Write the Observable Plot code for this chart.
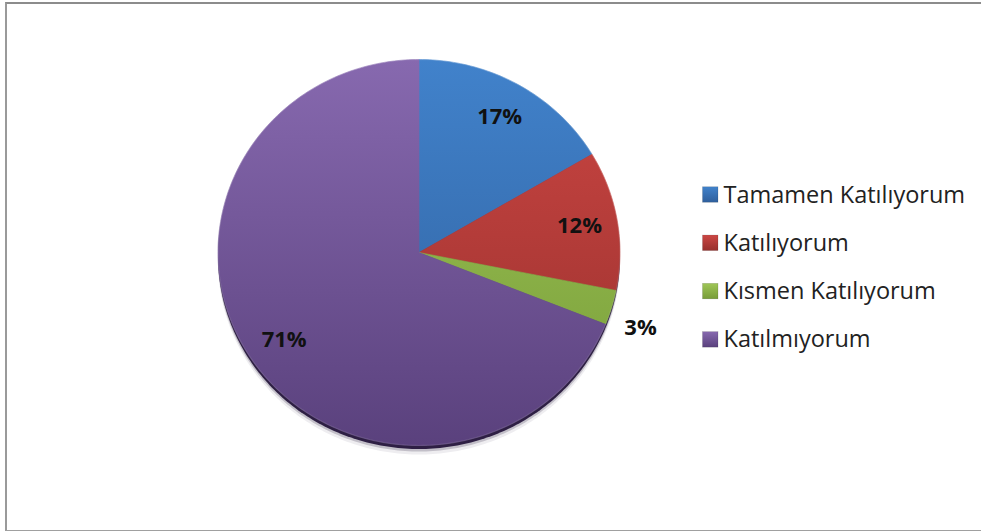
<!DOCTYPE html>
<html><head><meta charset="utf-8">
<script src="https://cdn.jsdelivr.net/npm/d3@7"></script>
<script src="https://cdn.jsdelivr.net/npm/@observablehq/plot@0.6"></script>
<style>
body{margin:0;background:#fff}
#chart{position:relative;width:981px;height:531px;overflow:hidden}
#frame{position:absolute;left:5px;top:2px;width:980px;height:526px;border-top:2px solid #8c8c8c;border-left:2px solid #9a9a9a;border-bottom:1px solid #a0a0a0;pointer-events:none}
</style>
</head><body><div id="chart"><div id="frame"></div></div>
<script>
// ---- data ----
const categories = ["Tamamen Katılıyorum", "Katılıyorum", "Kısmen Katılıyorum", "Katılmıyorum"];
const values = [17, 12, 3, 71];
const labels = ["17%", "12%", "3%", "71%"];
const colorsTop = ["#4182cb", "#cc4643", "#9fc657", "#8769af"];
const colorsBottom = ["#2f5f9c", "#97302d", "#779c38", "#5a417d"];

// ---- layout ----
const W = 981, H = 531;
const cx = 418.5, cy = 252, rx = 201, ry = 193;
const ux = px => (px - cx) / rx;
const uy = py => (cy - py) / ry;
const font = "'Open Sans', 'DejaVu Sans', sans-serif";

// ---- derived geometry ----
const total = d3.sum(values);
let acc = 0;
const slices = values.map((v, i) => {
  const a0 = acc / total * 2 * Math.PI; acc += v;
  const a1 = acc / total * 2 * Math.PI;
  const mid = (a0 + a1) / 2;
  const outside = v / total < 0.05;
  const r = outside ? 1.15 : 0.81;
  return {cat: categories[i], a0, a1, label: labels[i], outside, lx: r * Math.sin(mid), ly: r * Math.cos(mid)};
});
const pts = [];
slices.forEach(s => {
  pts.push({cat: s.cat, x: 0, y: 0});
  const n = Math.max(2, Math.ceil((s.a1 - s.a0) / (Math.PI / 180)));
  for (let k = 0; k <= n; k++) {
    const a = s.a0 + (s.a1 - s.a0) * k / n;
    pts.push({cat: s.cat, x: Math.sin(a), y: Math.cos(a)});
  }
  pts.push({cat: s.cat, x: 0, y: 0});
});
const ellipse = d3.range(0, 361).map(d => ({x: Math.sin(d * Math.PI / 180), y: Math.cos(d * Math.PI / 180)}));

const legendX = 702.5, legendY0 = 194.5, legendStep = 48.3, sq = 15.5;
const legend = categories.map((c, i) => ({
  cat: c,
  x1: ux(legendX), x2: ux(legendX + sq),
  y1: uy(legendY0 + i * legendStep - sq / 2), y2: uy(legendY0 + i * legendStep + sq / 2),
  tx: ux(legendX + sq + 5), ty: uy(legendY0 + i * legendStep)
}));

const urls = categories.map((c, i) => `url(#g${i})`);
const lurls = categories.map((c, i) => `url(#lg${i})`);
const labelStyle = {x: "lx", y: "ly", text: "label", fontFamily: font, fontWeight: "bold", fontSize: 22, fill: "#111"};

const chart = Plot.plot({
  width: W, height: H,
  margin: 0,
  style: {background: "transparent", overflow: "visible"},
  x: {domain: [-1, 1], range: [cx - rx, cx + rx], axis: null},
  y: {domain: [-1, 1], range: [cy + ry, cy - ry], axis: null},
  color: {type: "ordinal", domain: categories, range: urls},
  marks: [
    Plot.line(ellipse, {x: "x", y: "y", fill: "#2a1c3c", fillOpacity: 0.08, stroke: "none", dy: 9}),
    Plot.line(ellipse, {x: "x", y: "y", fill: "#2a1c3c", fillOpacity: 0.22, stroke: "none", dy: 6}),
    Plot.line(ellipse, {x: "x", y: "y", fill: "#2e1f44", fillOpacity: 1, stroke: "none", dy: 3.5}),
    Plot.line(pts, {x: "x", y: "y", z: "cat", fill: "cat", stroke: "cat", strokeWidth: 0.6}),
    Plot.line(ellipse, {x: "x", y: "y", fill: "none", stroke: "#ffffff", strokeOpacity: 0.12, strokeWidth: 1.2}),
    Plot.text(slices.filter(d => !d.outside), labelStyle),
    Plot.text(slices.filter(d => d.outside), {...labelStyle, dy: 12}),
    Plot.rect(legend, {x1: "x1", x2: "x2", y1: "y1", y2: "y2", fill: (d, i) => lurls[i], stroke: "#00000033", strokeWidth: 0.6}),
    Plot.text(legend, {x: "tx", y: "ty", text: "cat", textAnchor: "start", fontFamily: font, fontSize: 23.5, fill: "#222"})
  ]
});

// gradients
const defs = d3.select(chart).insert("defs", ":first-child");
categories.forEach((c, i) => {
  const g = defs.append("linearGradient").attr("id", `g${i}`)
    .attr("gradientUnits", "userSpaceOnUse").attr("x1", 0).attr("x2", 0)
    .attr("y1", cy - ry).attr("y2", cy + ry);
  g.append("stop").attr("offset", "0%").attr("stop-color", colorsTop[i]);
  g.append("stop").attr("offset", "100%").attr("stop-color", colorsBottom[i]);
  const lg = defs.append("linearGradient").attr("id", `lg${i}`)
    .attr("x1", 0).attr("x2", 0).attr("y1", 0).attr("y2", 1);
  lg.append("stop").attr("offset", "0%").attr("stop-color", colorsTop[i]);
  lg.append("stop").attr("offset", "100%").attr("stop-color", colorsBottom[i]);
});
document.getElementById("chart").appendChild(chart);
</script>
</body></html>
